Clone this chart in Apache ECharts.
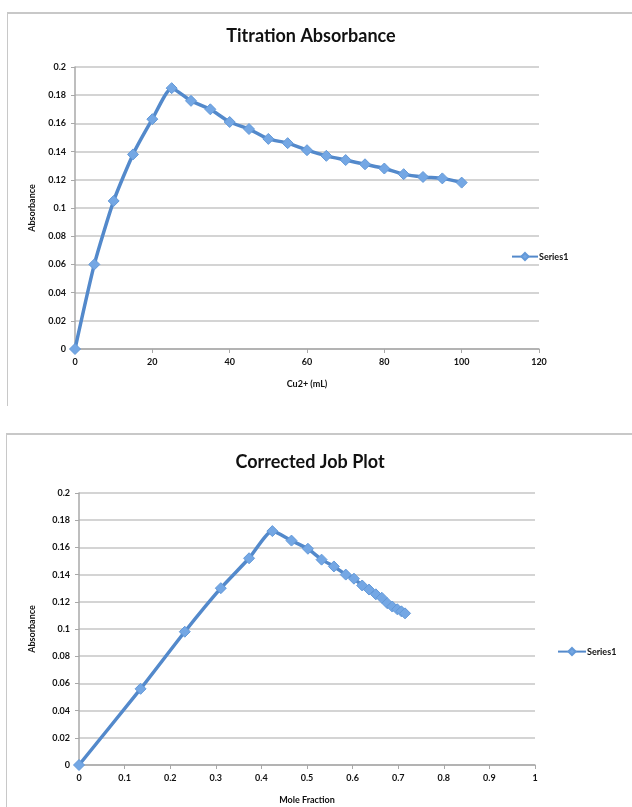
<!DOCTYPE html>
<html>
<head>
<meta charset="utf-8">
<script src="https://cdn.jsdelivr.net/npm/echarts@6/dist/echarts.min.js"></script>
<style>
  html, body { margin: 0; padding: 0; background: #fff; }
  #wrap { position: relative; width: 632px; height: 807px; overflow: hidden; }
  .frame { position: absolute; border-top: 2px solid #c8c8c8; border-left: 1px solid #c8c8c8; }
  #chart { position: absolute; left: 0; top: 0; width: 632px; height: 807px; }
</style>
</head>
<body>
<div id="wrap">
  <div class="frame" style="left:7px; top:12px; width:640px; height:392px;"></div>
  <div class="frame" style="left:6px; top:433px; width:640px; height:400px;"></div>
  <div id="chart"></div>
</div>
<script>
// ---- Data ----
const volumeML = [0, 5, 10, 15, 20, 25, 30, 35, 40, 45, 50, 55, 60, 65, 70, 75, 80, 85, 90, 95, 100];
const titrationAbs = [0, 0.060, 0.105, 0.138, 0.163, 0.185, 0.176, 0.170, 0.161, 0.156, 0.149, 0.146, 0.141, 0.137, 0.134, 0.131, 0.128, 0.124, 0.122, 0.121, 0.118];

const moleFraction = [0, 0.135, 0.232, 0.311, 0.373, 0.424, 0.466, 0.502, 0.532, 0.559, 0.585, 0.603, 0.621, 0.636, 0.651, 0.664, 0.676, 0.687, 0.698, 0.707, 0.715];
const correctedAbs = [0, 0.056, 0.098, 0.130, 0.152, 0.172, 0.165, 0.159, 0.151, 0.146, 0.140, 0.137, 0.132, 0.129, 0.1255, 0.123, 0.119, 0.1165, 0.1145, 0.113, 0.1115];

const titles = ['Titration Absorbance', 'Corrected Job Plot'];
const xAxisNames = ['Cu2+ (mL)', 'Mole Fraction'];
const yAxisName = 'Absorbance';
const seriesName = 'Series1';

// ---- Styling ----
const FONT = 'Lato, "Liberation Sans", sans-serif';
const lineColor = '#5389cb';
const markerColor = '#74a7e4';
const gridColor = '#c6c6c6';
const axisColor = '#a8a8a8';

function pairs(xs, ys) { return xs.map((x, i) => [x, ys[i]]); }

const axisLabel = { color: '#111', fontSize: 9, fontFamily: FONT, fontWeight: 'bold', margin: 8 };
const nameStyle = { color: '#111', fontSize: 9, fontFamily: FONT, fontWeight: 'bold' };

function xAxisCfg(gridIndex, min, max, interval, name) {
  return {
    type: 'value', gridIndex, min, max, interval,
    name, nameLocation: 'middle', nameGap: 31, nameTextStyle: nameStyle,
    axisLine: { show: true, lineStyle: { color: axisColor, width: 1.5 } },
    axisTick: { show: true, inside: false, length: 4, lineStyle: { color: axisColor } },
    splitLine: { show: false },
    axisLabel: Object.assign({}, axisLabel, { margin: 9 })
  };
}
function yAxisCfg(gridIndex, nameGap) {
  return {
    type: 'value', gridIndex, min: 0, max: 0.2, interval: 0.02,
    name: yAxisName, nameLocation: 'middle', nameRotate: 90, nameGap, nameTextStyle: nameStyle,
    axisLine: { show: true, lineStyle: { color: axisColor, width: 1.5 } },
    axisTick: { show: true, length: 4, lineStyle: { color: axisColor } },
    splitLine: { show: true, lineStyle: { color: gridColor, width: 1.5 } },
    axisLabel: Object.assign({}, axisLabel, { margin: 9 })
  };
}
function seriesCfg(idx, data) {
  return {
    name: seriesName, type: 'line', xAxisIndex: idx, yAxisIndex: idx,
    data, smooth: 0.2, symbol: 'diamond', symbolSize: 11,
    lineStyle: { color: lineColor, width: 3.5 },
    itemStyle: { color: markerColor, borderColor: '#6399d8', borderWidth: 1 },
    emphasis: { disabled: true }, animation: false
  };
}

const chart = echarts.init(document.getElementById('chart'), null, { renderer: 'canvas' });
chart.setOption({
  backgroundColor: 'transparent',
  animation: false,
  title: [
    { text: titles[0], left: 311, top: 27, textAlign: 'center', padding: 0,
      textStyle: { fontFamily: FONT, fontSize: 18, fontWeight: 'bold', color: '#111' } },
    { text: titles[1], left: 310, top: 453, textAlign: 'center', padding: 0,
      textStyle: { fontFamily: FONT, fontSize: 18, fontWeight: 'bold', color: '#111' } }
  ],
  legend: [
    { left: 511, top: 252, orient: 'vertical', itemWidth: 26, itemHeight: 9, itemGap: 0, padding: 0,
      data: [seriesName], textStyle: { fontFamily: FONT, fontSize: 9, fontWeight: 'bold', color: '#111', padding: [0, 0, 0, -4] },
      selectedMode: false },
    { left: 557, top: 647, orient: 'vertical', itemWidth: 28, itemHeight: 9, itemGap: 0, padding: 0,
      data: [seriesName], textStyle: { fontFamily: FONT, fontSize: 9, fontWeight: 'bold', color: '#111', padding: [0, 0, 0, -4] },
      selectedMode: false }
  ],
  grid: [
    { left: 75, top: 67, width: 464, height: 282 },
    { left: 79, top: 493, width: 456, height: 272 }
  ],
  xAxis: [
    xAxisCfg(0, 0, 120, 20, xAxisNames[0]),
    xAxisCfg(1, 0, 1, 0.1, xAxisNames[1])
  ],
  yAxis: [
    yAxisCfg(0, 38),
    yAxisCfg(1, 42)
  ],
  series: [
    seriesCfg(0, pairs(volumeML, titrationAbs)),
    seriesCfg(1, pairs(moleFraction, correctedAbs))
  ]
});
</script>
</body>
</html>
